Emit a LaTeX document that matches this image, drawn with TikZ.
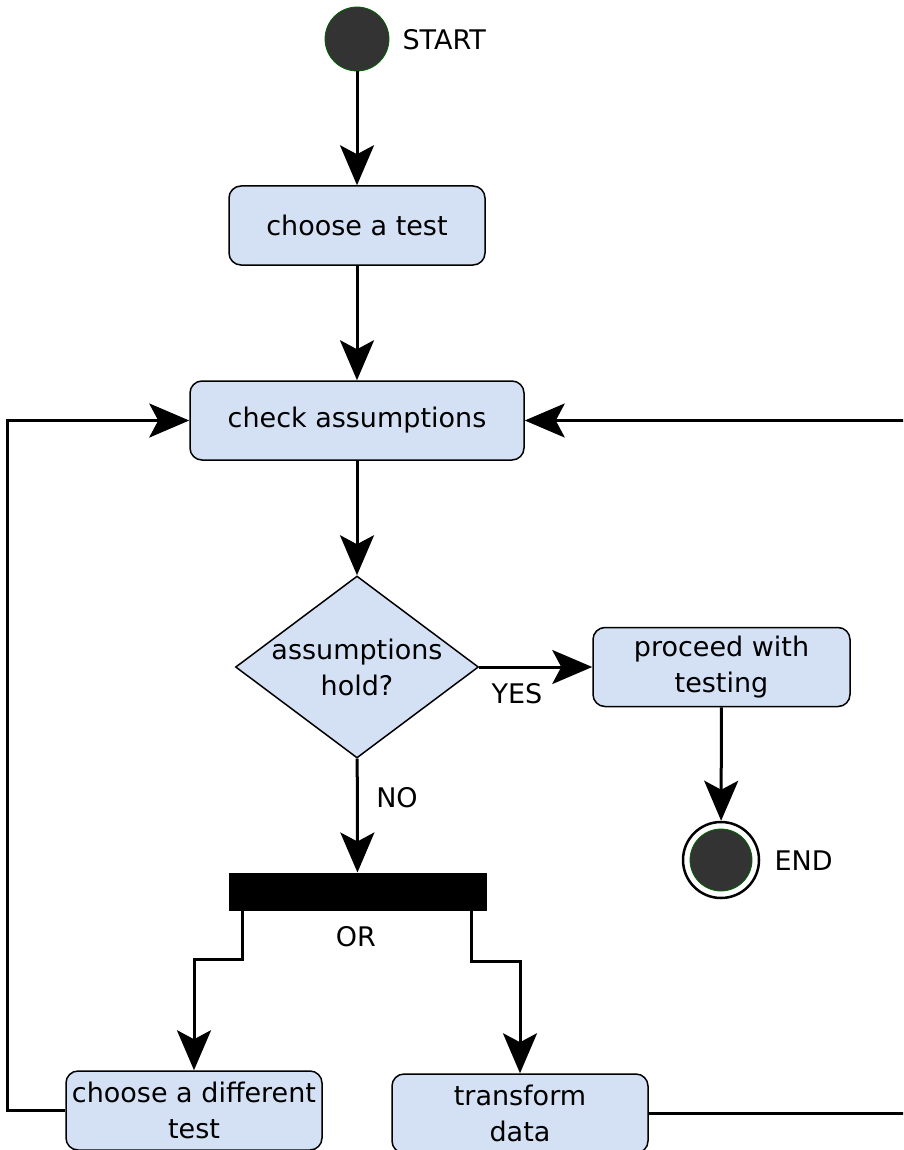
\documentclass[tikz,border=0pt]{standalone}
\usepackage{fontspec}
\setmainfont{DejaVu Sans}
\usetikzlibrary{arrows.meta,shapes.geometric}
\definecolor{boxblue}{RGB}{212,225,245}
\definecolor{dotgrey}{RGB}{51,51,51}
\definecolor{dotgreen}{RGB}{0,100,0}
\begin{document}
\begin{tikzpicture}[x=1pt,y=-1pt,
        every node/.style={font=\fontsize{27pt}{36pt}\selectfont},
        box/.style={rectangle, rounded corners=12pt, draw, fill=boxblue, line width=1.5pt,
                    align=center, inner sep=0pt, minimum height=79pt},
        decision/.style={diamond, draw, fill=boxblue, line width=1.5pt, inner sep=0pt,
                    minimum width=243pt, minimum height=182pt},
        startdot/.style={circle, fill=dotgrey, draw=dotgreen, line width=0.8pt, minimum size=64pt, inner sep=0pt},
        enddot/.style={circle, fill=white, draw, line width=2.5pt, minimum size=76pt, inner sep=0pt,
                    path picture={\filldraw[fill=dotgrey, draw=dotgreen, line width=0.8pt]
                    (path picture bounding box.center) circle (31pt);}},
        forkbar/.style={rectangle, fill=black, draw, line width=1pt, minimum width=257pt, minimum height=37pt, inner sep=0pt},
        flow/.style={line width=3pt, -{Stealth[length=40pt, width=34pt, inset=9pt]}}]
        \clip (0,0) rectangle (903,1150);
        % states
        \node[startdot] (start) at (357,39) {};
        \node[anchor=west] (startlbl) at (399,40) {START};
        \node[box, minimum width=256pt] (test) at (357,225.5) {choose a test};
        \node[box, minimum width=334pt] (check) at (357,420.5) {check assumptions};
        \node[decision, label={[align=center]center:assumptions\\hold?}] (hold) at (357,667) {};
        \node[box, minimum width=257pt] (proceed) at (721.5,667) {proceed with\\testing};
        \node[enddot] (end) at (721,860) {};
        \node[anchor=west] (endlbl) at (771,861) {END};
        \node[forkbar] (fork) at (357.5,891.5) {};
        \node[box, minimum width=256pt] (diff) at (194,1110.5) {choose a different\\test};
        \node[box, minimum width=256pt] (trans) at (520,1113.5) {transform\\data};
        % labels
        \node (yes) at (517,694) {YES};
        \node (no) at (397,798) {NO};
        \node (or) at (356,937) {OR};
        % flow
        \draw[flow] (start) -- (test);
        \draw[flow] (test) -- (check);
        \draw[flow] (check) -- (hold);
        \draw[flow] (hold) -- (proceed);
        \draw[flow] (proceed) -- (end);
        \draw[flow] (hold) -- (fork);
        \draw[flow] ([xshift=14pt]fork.south west) -- ++(0,49) -| (diff);
        \draw[flow] ([xshift=-15pt]fork.south east) -- ++(0,51) -| (trans);
        \draw[flow] (diff.west) -- ++(-58,0) |- (check.west);
        \draw[flow] (trans.east) -- ++(320,0) |- (check.east);
\end{tikzpicture}
\end{document}
